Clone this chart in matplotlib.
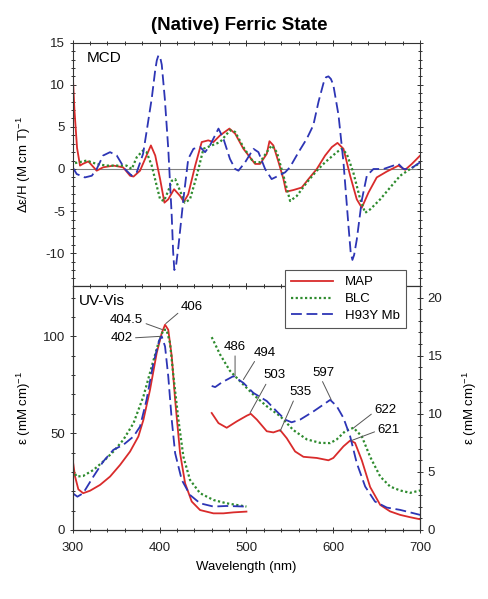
import numpy as np
import matplotlib
matplotlib.use("Agg")
import matplotlib.pyplot as plt
from matplotlib.ticker import MultipleLocator

plt.rcParams['font.family'] = ['Liberation Sans', 'DejaVu Sans']
plt.rcParams['mathtext.fontset'] = 'custom'
plt.rcParams['mathtext.rm'] = 'Liberation Sans'
plt.rcParams['mathtext.default'] = 'regular'
plt.rcParams['axes.unicode_minus'] = False

# ---- MCD (top panel) ----
mcd_map_x = [300, 302, 305, 308.4, 311.5, 318, 327.6, 335, 347, 358, 366, 370, 377.5, 385, 390, 395,
             400.6, 405.6, 410, 416.7, 423.6, 428, 433, 441, 448.5, 456, 462, 469.7, 480.4, 487,
             496.5, 510, 515.7, 523.4, 526.5, 531, 537, 542.6, 545.7, 554, 563.7, 571.4, 581,
             590.6, 598.3, 604.8, 611.7, 619.4, 627, 632.8, 640.5, 650, 661.6, 675, 682.7, 690.4, 700]
mcd_map_y = [11.3, 7.0, 2.5, 0.4, 0.6, 0.9, -0.2, 0.2, 0.4, 0.2, -0.8, -0.9, -0.2, 1.6, 2.8, 1.6,
             -1.2, -4.0, -3.6, -2.4, -3.2, -3.9, -3.0, 0.4, 3.2, 3.4, 3.2, 4.0, 4.8, 4.2,
             2.4, 0.6, 0.6, 1.8, 3.3, 2.8, 0.8, -1.2, -2.7, -2.5, -2.2, -1.2, 0.0,
             1.6, 2.6, 3.1, 2.4, -0.8, -3.6, -4.6, -2.8, -1.0, -0.3, 0.4, -0.1, 0.6, 1.6]

mcd_blc_x = [302.7, 316, 327.6, 339, 350.7, 362, 368, 373.7, 381, 385, 391, 396.7, 400.6, 405, 410,
             414, 418, 423.6, 429, 435, 442.8, 450.5, 460, 469.7, 481, 487, 496.5, 508, 515.7,
             523.4, 529, 535, 542.6, 550.3, 558, 569.5, 581, 590.6, 604, 609.8, 615.5, 623, 631,
             636.7, 642.4, 654, 665.4, 677, 688.5, 698]
mcd_blc_y = [0.7, 1.0, 0.6, 0.4, 0.4, 0.4, 0.0, 1.4, 2.2, 2.0, 0.4, -2.0, -3.6, -3.8, -2.6,
             -1.4, -1.2, -2.6, -4.0, -3.6, -0.8, 2.4, 2.8, 3.2, 4.6, 4.4, 2.6, 0.8, 0.8,
             2.0, 2.8, 2.0, -0.8, -3.8, -3.2, -1.6, -0.2, 0.8, 2.0, 2.4, 1.8, -0.4, -3.6,
             -5.2, -4.8, -3.6, -2.2, -0.8, 0.0, 0.6]

mcd_h93y_x = [300, 304.6, 314, 322, 327.6, 335, 343, 350.7, 360, 368, 373.7, 381, 385, 391, 394.8,
              396.8, 398.7, 400.6, 402.5, 406, 410, 414, 415.6, 417, 418.8, 421.7, 427.4, 433, 439,
              446.6, 452.4, 458, 467.8, 473.5, 481, 487, 490.8, 498.5, 508, 513.8, 521.5, 529,
              536.9, 544.5, 550, 560, 569.5, 577, 583, 588.7, 591.6, 594.4, 597.2, 600, 606,
              611.7, 617.5, 620, 622, 624, 627, 633, 638.6, 646.2, 657.8, 669, 675, 680.8, 688.5, 700]
mcd_h93y_y = [0.2, -0.6, -1.0, -0.8, 0.0, 1.6, 2.0, 1.6, 0.0, -0.8, -0.4, 1.8, 4.4, 8.4, 11.6,
              12.9, 13.5, 13.3, 12.4, 8.4, 2.4, -5.6, -9.8, -12.0, -11.6, -9.2, -3.6, 1.2, 2.4,
              2.6, 2.0, 2.8, 4.8, 3.6, 1.2, 0.0, -0.2, 0.8, 2.4, 2.0, 0.0, -1.2,
              -0.8, -0.4, 0.2, 2.0, 3.6, 5.2, 8.0, 10.2, 10.9, 11.0, 10.7, 10.0, 6.4,
              0.8, -6.8, -9.9, -10.8, -10.2, -8.4, -3.6, -0.8, 0.0, 0.0, 0.4, 0.6, 0.0, 0.0, 0.8]

# ---- UV-Vis Soret region (left axis, 300-500 nm) ----
uv_map_x = [300, 302.7, 306.5, 312, 320, 331.5, 343, 354.5, 366, 375.6, 381.4, 389, 396.7, 402.5,
            406.3, 410, 414, 417.9, 423.6, 429.4, 437, 446.6, 462, 473.5, 485, 500]
uv_map_y = [36.2, 27.6, 21.0, 19.0, 20.3, 23.3, 27.6, 33.6, 40.5, 48.3, 56.9, 72.4, 91.4, 101.7,
            106.0, 103.4, 89.7, 67.2, 39.7, 24.1, 14.7, 10.3, 8.6, 8.6, 9.1, 9.5]

uv_blc_x = [300, 304.6, 312, 323.8, 335, 346.8, 358.3, 370, 381.4, 391, 398.7, 404.4, 408, 412,
            416, 421.7, 427.4, 435, 446.6, 462, 477, 500]
uv_blc_y = [31.0, 27.6, 27.9, 31.0, 35.3, 40.5, 46.6, 55.2, 69.0, 84.5, 96.6, 103.4, 103.4, 96.6,
            79.3, 56.9, 37.9, 25.9, 19.0, 15.5, 13.8, 12.1]

uv_h93y_x = [300, 305.4, 312, 323.8, 335, 346.8, 358.3, 370, 377.5, 385, 392.9, 399.8, 402.5,
             406.3, 410, 414, 417.9, 425.5, 435, 446.6, 462, 477, 500]
uv_h93y_y = [19.0, 17.2, 19.0, 27.6, 35.3, 41.4, 44.0, 48.3, 53.4, 67.2, 86.2, 98.3, 100.0,
             94.8, 79.3, 56.9, 39.7, 25.9, 18.1, 13.8, 12.1, 12.4, 12.1]

# ---- UV-Vis visible region (right axis, 460-700 nm) ----
vis_map_x = [460, 467.8, 477.3, 488.9, 500.4, 505, 512, 523.4, 531, 538.8, 546.4, 556, 565.6, 581,
             594.4, 600, 611.7, 619.4, 625, 632.8, 642.4, 654, 665.4, 677, 688.5, 700]
vis_map_y = [10.07, 9.2, 8.8, 9.35, 9.84, 10.0, 9.5, 8.5, 8.4, 8.6, 7.9, 6.76, 6.3, 6.2,
             6.0, 6.2, 7.2, 7.7, 7.5, 6.0, 3.7, 2.16, 1.6, 1.3, 1.1, 0.92]

vis_blc_x = [460, 469.7, 481, 492.7, 508, 523.4, 538.8, 554, 569.5, 584.8, 596.4, 604, 613.6, 623.2,
             632.8, 642.4, 654, 665.4, 677, 688.5, 700]
vis_blc_y = [16.6, 15.1, 13.7, 12.8, 11.65, 10.65, 9.8, 8.6, 7.8, 7.5, 7.48, 7.8, 8.5, 8.8,
             8.06, 6.3, 4.6, 3.74, 3.4, 3.2, 3.4]

vis_h93y_x = [460, 464, 471.6, 485, 496.5, 508, 523.4, 535, 544.5, 552, 561.8, 577, 588.7, 596.4,
              604, 611.7, 619.4, 627, 636.7, 648, 661.6, 677, 700]
vis_h93y_y = [12.4, 12.3, 12.7, 13.24, 12.66, 11.8, 11.1, 10.2, 9.5, 9.27, 9.5, 10.2, 10.8, 11.2,
              10.65, 9.64, 8.06, 5.76, 3.74, 2.45, 1.93, 1.73, 1.3]

# peak labels: (text, peak x, peak y, text x, text y)
soret_labels = [("406", 407.1, 106.6, 437.0, 115.0),
                ("404.5", 403.2, 103.5, 362.2, 108.3),
                ("402", 400.5, 100.0, 356.4, 99.2)]
vis_labels = [("486", 486.9, 13.24, 486.9, 15.74),
              ("494", 496.5, 12.95, 521.5, 15.26),
              ("503", 504.2, 10.08, 531.8, 13.3),
              ("535", 538.7, 8.49, 561.8, 11.86),
              ("597", 597.5, 11.23, 588.6, 13.53),
              ("622", 623.2, 8.78, 659.7, 10.36),
              ("621", 621.3, 7.71, 663.5, 8.64)]

red = '#d92b2b'
green = '#2e8b2e'
blue = '#2d35b5'
styles = {
    'MAP': dict(color=red, lw=1.3, ls='-'),
    'BLC': dict(color=green, lw=1.6, ls=(0, (1, 1.1))),
    'H93Y Mb': dict(color=blue, lw=1.3, ls=(0, (6, 2.6))),
}

fig = plt.figure(figsize=(4.88, 5.99), dpi=100)
ax1 = fig.add_axes([0.149, 0.5225, 0.712, 0.4062])
ax2 = fig.add_axes([0.149, 0.1152, 0.712, 0.4073])
ax3 = ax2.twinx()

ax1.axhline(0, color='#808080', lw=0.8, zorder=1)
l1, = ax1.plot(mcd_map_x, mcd_map_y, label='MAP', **styles['MAP'])
l2, = ax1.plot(mcd_blc_x, mcd_blc_y, label='BLC', **styles['BLC'])
l3, = ax1.plot(mcd_h93y_x, mcd_h93y_y, label='H93Y Mb', **styles['H93Y Mb'])

ax2.plot(uv_map_x, uv_map_y, **styles['MAP'])
ax2.plot(uv_blc_x, uv_blc_y, **styles['BLC'])
ax2.plot(uv_h93y_x, uv_h93y_y, **styles['H93Y Mb'])
ax3.plot(vis_map_x, vis_map_y, **styles['MAP'])
ax3.plot(vis_blc_x, vis_blc_y, **styles['BLC'])
ax3.plot(vis_h93y_x, vis_h93y_y, **styles['H93Y Mb'])

ax1.set_xlim(300, 700)
ax1.set_ylim(-13.9, 15)
ax2.set_xlim(300, 700)
ax2.set_ylim(0, 126)
ax3.set_ylim(0, 21)

ax1.xaxis.set_major_locator(MultipleLocator(100))
ax1.xaxis.set_minor_locator(MultipleLocator(20))
ax1.yaxis.set_minor_locator(MultipleLocator(1))
ax1.set_yticks([-10, -5, 0, 5, 10, 15])
ax1.tick_params(labelbottom=False)
ax2.xaxis.set_major_locator(MultipleLocator(100))
ax2.xaxis.set_minor_locator(MultipleLocator(20))
ax2.yaxis.set_major_locator(MultipleLocator(50))
ax2.yaxis.set_minor_locator(MultipleLocator(10))
ax3.yaxis.set_major_locator(MultipleLocator(5))
ax3.yaxis.set_minor_locator(MultipleLocator(1))

for a in (ax1, ax2, ax3):
    for s in a.spines.values():
        s.set_linewidth(0.8)
        s.set_color('#333333')
    a.tick_params(which='both', direction='inout', labelsize=9.5, colors='#333333',
                  labelcolor='#222222', width=0.7)
    a.tick_params(which='major', length=5, pad=3)
    a.tick_params(which='minor', length=3)
ax1.tick_params(which='both', top=True, right=True)
ax2.tick_params(which='both', top=True)
ax2.tick_params(axis='x', pad=6)

ax1.set_ylabel(r'$\Delta\varepsilon$/H (M cm T)$^{-1}$', fontsize=9.5)
ax1.yaxis.set_label_coords(-0.114, 0.5)
ax2.set_ylabel(r'$\varepsilon$ (mM cm)$^{-1}$', fontsize=9.5)
ax2.yaxis.set_label_coords(-0.114, 0.5)
ax3.set_ylabel(r'$\varepsilon$ (mM cm)$^{-1}$', fontsize=9.5, rotation=90)
ax3.yaxis.set_label_coords(1.118, 0.5)
ax2.set_xlabel('Wavelength (nm)', fontsize=9.5, labelpad=5)

ax1.text(0.041, 0.937, 'MCD', transform=ax1.transAxes, fontsize=11, va='center', ha='left')
ax2.text(0.019, 0.939, 'UV-Vis', transform=ax2.transAxes, fontsize=11, va='center', ha='left')

relpos = {"406": (0, 0.2), "404.5": (1, 0.3), "402": (1, 0.5), "486": (0.5, 0),
          "494": (0.1, 0), "503": (0.2, 0), "535": (0.25, 0), "597": (0.4, 0),
          "622": (0, 0.3), "621": (0, 0.4)}
for ax, labels in ((ax2, soret_labels), (ax3, vis_labels)):
    for txt, px, py, tx, ty in labels:
        ax.annotate(txt, xy=(px, py), xytext=(tx, ty), fontsize=9.5, ha='center', va='center',
                    arrowprops=dict(arrowstyle='-', color='#555555', lw=0.7,
                                    relpos=relpos[txt], shrinkA=0, shrinkB=0))

fig.text(0.49, 1 - 25.7 / 599, '(Native) Ferric State', fontsize=13.5, fontweight='bold',
         ha='center', va='center')

leg = fig.legend(handles=[l1, l2, l3], loc='upper left', bbox_to_anchor=(0.584, 0.549),
                 borderaxespad=0, fontsize=9.5, fancybox=False, framealpha=1,
                 edgecolor='#555555', handlelength=3.2, handletextpad=0.9,
                 labelspacing=0.35, borderpad=0.45)
leg.get_frame().set_linewidth(0.8)

fig.savefig('out.png', dpi=100)
